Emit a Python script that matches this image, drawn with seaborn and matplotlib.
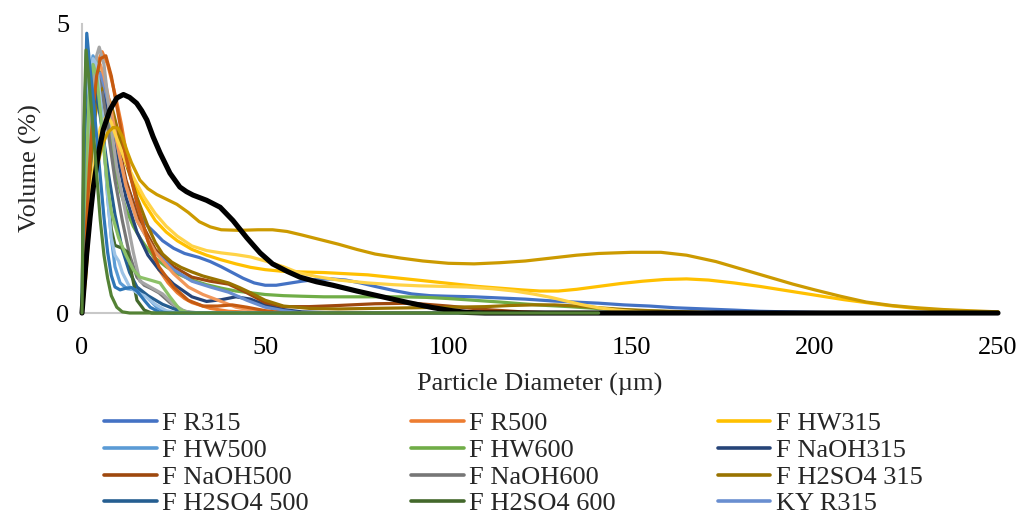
import matplotlib
matplotlib.use("Agg")
import matplotlib.pyplot as plt
from matplotlib.lines import Line2D
import seaborn as sns
import pandas as pd

sns.set_theme(style="white")
plt.rcParams["font.family"] = ["Liberation Serif", "DejaVu Serif"]

# ---- particle size distributions: diameter (µm) vs volume (%) ----
series_names = [
    "F R315", "F R500", "F HW315", "F HW500", "F HW600", "F NaOH315",
    "F NaOH500", "F NaOH600", "F H2SO4 315", "F H2SO4 500", "F H2SO4 600", "KY R315",
    "KY R500", "KY HW315", "KY HW500", "KY HW600", "KY NaOH315", "KY NaOH500",
    "KY NaOH600", "KY H2SO4 315", "KY H2SO4 600", "KY H2SO4 500",
]
series_colors = [
    "#4472C4", "#ED7D31", "#FFC000", "#5B9BD5", "#70AD47", "#264478",
    "#9E480E", "#767676", "#997300", "#255E91", "#43682B", "#698ED0",
    "#F1975A", "#A5A5A5", "#FFD347", "#9DC3E6", "#8CC168", "#C55A11",
    "#2E75B6", "#CC9A00", "#000000", "#548235",
]
legend_count = 12

x_f_r315 = [0, 1, 2, 3, 4, 5, 6, 7, 8, 10, 12, 14, 16, 18, 20, 22, 25, 28, 32, 35, 38, 41, 44, 47, 50, 53, 56, 60, 64, 68, 72, 76, 80, 85, 90, 95, 100, 107, 114, 121, 128, 134, 141, 148, 155, 162, 170, 178, 185, 192, 200, 210, 250]
y_f_r315 = [0, 0.9, 2.2, 3.2, 3.8, 3.95, 3.85, 3.62, 3.35, 2.75, 2.25, 1.92, 1.68, 1.5, 1.38, 1.25, 1.12, 1.03, 0.96, 0.89, 0.8, 0.7, 0.6, 0.52, 0.48, 0.48, 0.51, 0.55, 0.58, 0.59, 0.57, 0.52, 0.46, 0.39, 0.33, 0.3, 0.29, 0.28, 0.26, 0.24, 0.21, 0.19, 0.17, 0.14, 0.12, 0.09, 0.07, 0.05, 0.03, 0.02, 0.01, 0, 0]

x_f_r500 = [0, 0.5, 1, 2, 3, 4, 5.5, 7, 8.2, 9.5, 10.8, 12, 13.5, 15, 16.4, 17.7, 19.3, 21, 23.5, 26, 28, 30, 35, 40, 50, 250]
y_f_r500 = [0, 0.5, 1.5, 2.9, 3.8, 4.3, 4.52, 4.3, 4.0, 3.65, 3.25, 2.8, 2.35, 1.9, 1.58, 1.3, 1.0, 0.75, 0.52, 0.35, 0.25, 0.18, 0.08, 0.03, 0, 0]

x_f_hw315 = [0, 1, 2, 3, 4, 5, 6, 7, 8, 9, 10, 12, 14, 17, 20, 23, 26, 30, 34, 38, 42, 46, 50, 55, 60, 66, 72, 78, 84, 90, 96, 102, 108, 114, 120, 125, 130, 135, 141, 147, 153, 159, 165, 171, 178, 185, 191, 196, 202, 208, 214, 220, 226, 232, 240, 250]
y_f_hw315 = [0, 0.6, 1.5, 2.2, 2.7, 3.0, 3.2, 3.27, 3.25, 3.15, 3.0, 2.6, 2.25, 1.9, 1.6, 1.4, 1.25, 1.1, 1.0, 0.92, 0.85, 0.79, 0.75, 0.72, 0.71, 0.7, 0.68, 0.66, 0.62, 0.58, 0.54, 0.5, 0.46, 0.43, 0.4, 0.38, 0.38, 0.41, 0.46, 0.51, 0.55, 0.58, 0.59, 0.57, 0.52, 0.46, 0.4, 0.35, 0.29, 0.23, 0.18, 0.13, 0.09, 0.06, 0.03, 0.02]

x_f_hw500 = [0, 1, 2, 3, 4, 5, 6, 7, 8, 9, 10.4, 12.3, 15, 17.7, 20.4, 23, 26, 250]
y_f_hw500 = [0, 2.5, 4.0, 4.45, 4.3, 3.8, 3.0, 2.0, 1.3, 0.8, 0.52, 0.42, 0.4, 0.28, 0.1, 0.02, 0, 0]

x_f_hw600 = [0, 1, 2, 3, 4, 5, 6, 7, 8, 9, 10.5, 12, 14, 16, 18, 20, 23, 26, 30, 34, 38, 42, 46, 50, 55, 60, 66, 72, 80, 87, 94, 100, 107, 114, 120, 127, 133, 140, 148, 157, 166, 175, 250]
y_f_hw600 = [0, 2.0, 3.5, 4.2, 4.35, 4.1, 3.7, 3.3, 2.9, 2.5, 2.1, 1.8, 1.5, 1.28, 1.1, 0.95, 0.8, 0.68, 0.57, 0.49, 0.43, 0.38, 0.35, 0.32, 0.3, 0.29, 0.28, 0.28, 0.28, 0.28, 0.27, 0.25, 0.22, 0.19, 0.16, 0.13, 0.11, 0.08, 0.05, 0.03, 0.01, 0, 0]

x_f_naoh315 = [0, 1, 2, 3, 4, 5, 6, 8, 10, 12, 15, 18, 21, 25, 30, 34, 38, 42, 46, 50, 55, 60, 70, 250]
y_f_naoh315 = [0, 1.2, 2.6, 3.5, 3.9, 3.95, 3.8, 3.2, 2.6, 2.0, 1.4, 1.0, 0.75, 0.5, 0.28, 0.2, 0.23, 0.28, 0.24, 0.14, 0.06, 0.02, 0, 0]

x_f_naoh500 = [0, 1, 2, 3, 4, 5, 6, 8, 10, 12, 15, 20, 25, 30, 35, 40, 45, 50, 55, 62, 70, 80, 90, 100, 110, 120, 130, 250]
y_f_naoh500 = [0, 1.5, 3.0, 3.8, 4.1, 4.15, 4.0, 3.5, 2.9, 2.3, 1.7, 1.1, 0.8, 0.62, 0.55, 0.5, 0.35, 0.18, 0.11, 0.11, 0.13, 0.16, 0.17, 0.12, 0.06, 0.02, 0, 0]

x_f_naoh600 = [0, 1, 2, 3, 4, 5, 7, 9, 11, 13, 15, 17, 19, 21, 24, 27, 30, 250]
y_f_naoh600 = [0, 1.8, 3.3, 4.0, 4.2, 4.05, 3.2, 2.3, 1.6, 1.0, 0.62, 0.48, 0.42, 0.35, 0.18, 0.05, 0, 0]

x_f_h2so4_315 = [0, 1, 2, 3, 4, 5, 6, 8, 10, 12, 15, 18, 20, 22, 24.5, 27, 30, 33, 36.5, 40, 43, 46, 50, 55, 62, 70, 80, 90, 100, 110, 117, 123, 129, 135, 141, 148, 155, 170, 185, 250]
y_f_h2so4_315 = [0, 1.0, 2.2, 3.1, 3.6, 3.85, 3.9, 3.6, 3.1, 2.6, 2.0, 1.5, 1.22, 1.02, 0.88, 0.79, 0.71, 0.64, 0.58, 0.52, 0.44, 0.35, 0.22, 0.12, 0.08, 0.07, 0.08, 0.09, 0.1, 0.11, 0.13, 0.14, 0.14, 0.12, 0.09, 0.06, 0.04, 0.01, 0, 0]

x_f_h2so4_500 = [0, 0.7, 1.5, 2.5, 3.5, 5, 7, 9, 11, 13, 15, 18, 22, 26, 30, 250]
y_f_h2so4_500 = [0, 2.0, 3.5, 4.0, 3.9, 3.4, 2.5, 1.7, 1.1, 0.7, 0.45, 0.3, 0.15, 0.05, 0, 0]

x_f_h2so4_600 = [0, 0.5, 1.3, 2, 3, 4, 5, 6, 7, 8, 9, 11, 12.5, 13.5, 15, 17, 19, 250]
y_f_h2so4_600 = [0, 2.8, 4.67, 4.25, 3.98, 4.0, 3.6, 2.9, 2.1, 1.45, 1.17, 1.12, 1.05, 0.7, 0.22, 0.05, 0, 0]

x_ky_r315 = [0, 1, 2, 3, 4, 5, 6, 8, 10, 12, 15, 20, 25, 30, 35, 40, 45, 50, 55, 60, 250]
y_ky_r315 = [0, 1.3, 2.8, 3.7, 4.1, 4.15, 3.95, 3.4, 2.8, 2.2, 1.6, 1.05, 0.75, 0.55, 0.45, 0.36, 0.22, 0.1, 0.04, 0, 0]

x_ky_r500 = [0, 1, 2, 3, 4, 5, 6, 8, 10, 12, 15, 20, 25, 29, 33, 38, 42, 48, 55, 250]
y_ky_r500 = [0, 1.4, 2.9, 3.8, 4.2, 4.3, 4.1, 3.5, 2.8, 2.2, 1.6, 1.05, 0.68, 0.45, 0.32, 0.2, 0.1, 0.03, 0, 0]

x_ky_hw315 = [0, 1, 2, 3, 4, 4.7, 6, 7.6, 9.5, 12.3, 14, 15.8, 18.6, 22, 25, 28, 32, 250]
y_ky_hw315 = [0, 1.6, 2.9, 3.9, 4.45, 4.6, 4.3, 3.4, 2.5, 1.6, 1.05, 0.55, 0.45, 0.33, 0.15, 0.03, 0, 0]

x_ky_hw500 = [0, 1, 2, 3, 4, 5, 6, 7, 8, 9, 10.5, 12, 14, 17, 20, 23, 26, 30, 34, 38, 42, 46, 50, 55, 59, 64, 70, 78, 85, 92, 99, 105, 112, 118, 123, 128, 132, 136, 141, 146, 152, 160, 250]
y_ky_hw500 = [0, 0.8, 1.8, 2.4, 2.9, 3.2, 3.35, 3.4, 3.3, 3.1, 2.85, 2.6, 2.35, 2.0, 1.72, 1.5, 1.33, 1.16, 1.08, 1.04, 1.01, 0.97, 0.9, 0.8, 0.7, 0.63, 0.57, 0.52, 0.49, 0.47, 0.46, 0.45, 0.42, 0.38, 0.33, 0.27, 0.21, 0.15, 0.09, 0.05, 0.02, 0, 0]

x_ky_hw600 = [0, 1, 2, 3, 4, 5, 6, 7, 8, 9, 10, 11, 13, 15, 17, 20, 23, 26, 250]
y_ky_hw600 = [0, 2.2, 3.8, 4.4, 4.3, 3.7, 2.9, 2.0, 1.3, 1.0, 0.9, 0.7, 0.45, 0.35, 0.3, 0.15, 0.04, 0, 0]

x_ky_naoh315 = [0, 1, 2, 3, 4, 5, 6, 7, 8, 10, 12, 14, 15.8, 18.6, 21.3, 24, 26.7, 29, 250]
y_ky_naoh315 = [0, 2.2, 3.8, 4.3, 4.1, 3.5, 2.8, 2.2, 1.75, 1.3, 1.0, 0.75, 0.62, 0.57, 0.52, 0.28, 0.06, 0, 0]

x_ky_naoh500 = [0, 1, 2, 3, 4, 5, 6.5, 8, 10, 12, 15, 18, 21, 25, 29, 33, 37, 41, 45, 50, 55, 250]
y_ky_naoh500 = [0, 1.2, 2.5, 3.5, 4.1, 4.4, 4.45, 4.1, 3.4, 2.7, 1.9, 1.25, 0.8, 0.45, 0.22, 0.12, 0.12, 0.14, 0.1, 0.04, 0, 0]

x_ky_naoh600 = [0, 0.6, 1.3, 2, 3, 4, 5, 6, 7, 8, 9, 10.4, 12, 13.5, 15, 17, 18.6, 21, 24, 250]
y_ky_naoh600 = [0, 3.0, 4.84, 4.35, 3.75, 3.05, 2.35, 1.65, 1.05, 0.65, 0.45, 0.4, 0.43, 0.44, 0.38, 0.22, 0.1, 0.02, 0, 0]

x_ky_h2so4_315 = [0, 1, 2, 3, 4, 5.5, 7, 8.5, 9.8, 11, 12.3, 13.5, 15.8, 18, 20.4, 23, 25.9, 29, 32, 35, 38, 43, 48, 52, 56, 60, 65, 70, 75, 80, 87, 93, 100, 107, 114, 121, 128, 135, 141, 150, 158, 165, 173, 180, 187, 194, 200, 207, 214, 221, 228, 235, 242, 250]
y_ky_h2so4_315 = [0, 0.7, 1.5, 2.1, 2.5, 2.9, 3.12, 3.21, 3.2, 3.05, 2.8, 2.6, 2.3, 2.15, 2.05, 1.97, 1.88, 1.74, 1.58, 1.49, 1.44, 1.43, 1.44, 1.44, 1.41, 1.35, 1.27, 1.19, 1.1, 1.02, 0.95, 0.9, 0.86, 0.85, 0.87, 0.9, 0.95, 1.0, 1.03, 1.05, 1.05, 1.0, 0.89, 0.76, 0.63, 0.5, 0.4, 0.29, 0.19, 0.13, 0.09, 0.06, 0.04, 0.02]

x_ky_h2so4_600 = [0, 0.6, 1.3, 2.2, 3.1, 4.5, 5.8, 7.6, 9.5, 11.3, 13, 14.9, 16.3, 17.7, 19.4, 21.3, 24, 26.7, 28.5, 30.3, 34, 37.7, 41.2, 45, 48.6, 52, 56, 59.5, 64, 68.5, 75, 82, 89, 96, 101, 105, 110, 250]
y_ky_h2so4_600 = [0, 0.5, 1.04, 1.65, 2.18, 2.77, 3.17, 3.51, 3.72, 3.78, 3.73, 3.63, 3.5, 3.34, 3.05, 2.77, 2.42, 2.18, 2.1, 2.04, 1.95, 1.83, 1.6, 1.3, 1.04, 0.85, 0.72, 0.62, 0.54, 0.48, 0.38, 0.28, 0.18, 0.09, 0.04, 0.01, 0, 0]

x_ky_h2so4_500 = [0, 0.5, 1.1, 1.8, 3, 4, 5, 6, 7, 8, 9.5, 11, 13, 141]
y_ky_h2so4_500 = [0, 3.2, 4.55, 4.1, 3.2, 2.4, 1.6, 1.0, 0.6, 0.3, 0.1, 0.02, 0, 0]

series_x = [
    x_f_r315, x_f_r500, x_f_hw315, x_f_hw500, x_f_hw600, x_f_naoh315,
    x_f_naoh500, x_f_naoh600, x_f_h2so4_315, x_f_h2so4_500, x_f_h2so4_600, x_ky_r315,
    x_ky_r500, x_ky_hw315, x_ky_hw500, x_ky_hw600, x_ky_naoh315, x_ky_naoh500,
    x_ky_naoh600, x_ky_h2so4_315, x_ky_h2so4_600, x_ky_h2so4_500,
]
series_y = [
    y_f_r315, y_f_r500, y_f_hw315, y_f_hw500, y_f_hw600, y_f_naoh315,
    y_f_naoh500, y_f_naoh600, y_f_h2so4_315, y_f_h2so4_500, y_f_h2so4_600, y_ky_r315,
    y_ky_r500, y_ky_hw315, y_ky_hw500, y_ky_hw600, y_ky_naoh315, y_ky_naoh500,
    y_ky_naoh600, y_ky_h2so4_315, y_ky_h2so4_600, y_ky_h2so4_500,
]

frames = []
for order, (name, xs, ys) in enumerate(zip(series_names, series_x, series_y)):
    frames.append(pd.DataFrame({"sample": name, "order": order,
                                "Particle Diameter": xs, "Volume": ys}))
df = pd.concat(frames, ignore_index=True)

fig = plt.figure(figsize=(10.24, 5.23), dpi=100)
ax = fig.add_axes([82 / 1024, 1 - 313 / 523, (998 - 82) / 1024, (313 - 24) / 523])

for order, (name, color) in enumerate(zip(series_names, series_colors)):
    sub = df[df["sample"] == name]
    lw = 3.7 if color == "#000000" else 2.3
    sns.lineplot(data=sub, x="Particle Diameter", y="Volume", color=color,
                 linewidth=lw, sort=False, estimator=None, ax=ax,
                 legend=False, zorder=2 + order * 0.01,
                 solid_joinstyle="round", solid_capstyle="round")

ax.set_xlim(0, 250)
ax.set_ylim(0, 5)
ax.set_xticks([0, 50, 100, 150, 200, 250])
ax.set_yticks([0, 5])
ax.tick_params(axis="both", length=0, labelsize=19, colors="#000000")
ax.tick_params(axis="x", pad=17)
ax.tick_params(axis="y", pad=9)
for side in ("top", "right"):
    ax.spines[side].set_visible(False)
for side in ("left", "bottom"):
    ax.spines[side].set_color("#C8C8C8")
    ax.spines[side].set_linewidth(1.5)
    ax.spines[side].set_zorder(1)
ax.set_xlabel("Particle Diameter (µm)", fontsize=19, labelpad=10)
ax.set_ylabel("Volume (%)", fontsize=19, labelpad=10)
for line in ax.lines:
    line.set_clip_on(False)

# legend entries laid out row by row across three columns
ncol = 3
idx = list(range(legend_count))
col_major = [i for c in range(ncol) for i in idx[c::ncol]]
handles = [Line2D([0], [0], color=series_colors[i], lw=2.6) for i in col_major]
labels = [series_names[i] for i in col_major]
fig.legend(handles, labels, ncol=ncol, loc="upper left",
           bbox_to_anchor=(104 / 1024, 1 - 412 / 523), frameon=False,
           fontsize=19, handlelength=2.0, handletextpad=0.2,
           columnspacing=3.87, labelspacing=0.12, borderpad=0, borderaxespad=0)

fig.savefig("out.png", dpi=100, facecolor="white")
